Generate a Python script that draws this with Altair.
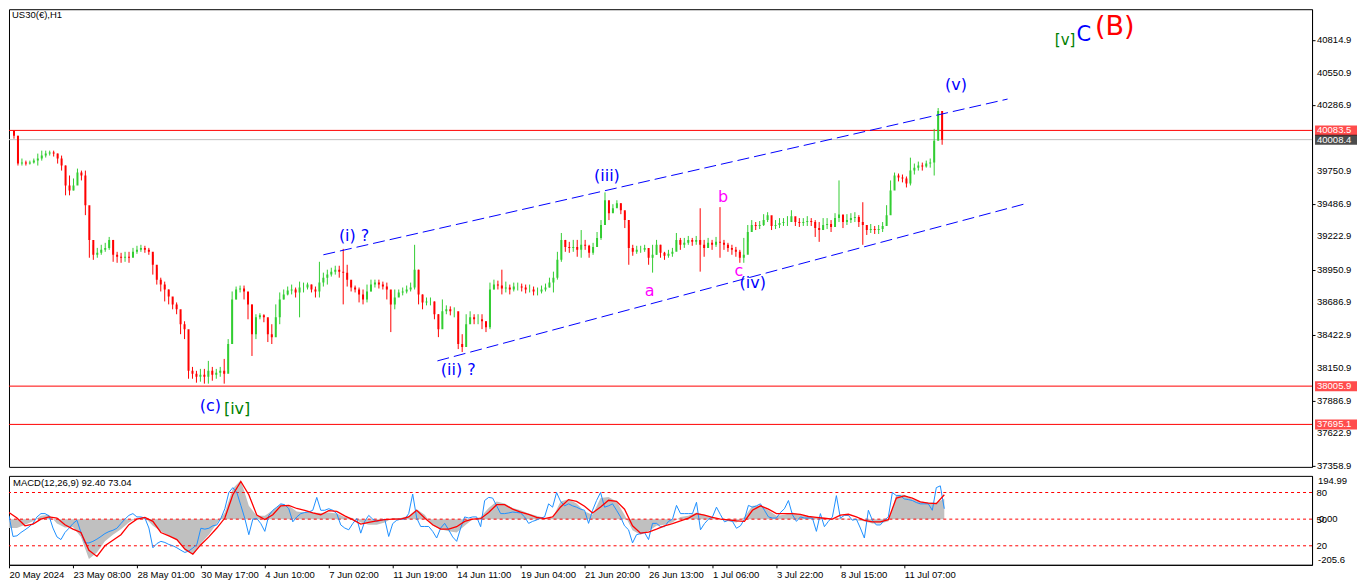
import altair as alt
import pandas as pd

# ---------------- data ----------------
first_open = 40080
close = [
40040, 39814, 39822, 39814, 39822, 39838, 39855, 39879, 39895, 39903,
39895, 39855, 39798, 39636, 39596, 39636, 39741, 39717, 39476, 39194,
39073, 39089, 39113, 39129, 39194, 39073, 39057, 39049, 39057, 39049,
39097, 39113, 39129, 39113, 39097, 38992, 38871, 38831, 38791, 38734,
38670, 38630, 38509, 38469, 38130, 38106, 38082, 38098, 38082, 38130,
38098, 38114, 38130, 38106, 38348, 38710, 38791, 38799, 38775, 38670,
38428, 38565, 38581, 38565, 38428, 38404, 38565, 38710, 38751, 38783,
38791, 38767, 38807, 38807, 38831, 38791, 38775, 38847, 38887, 38912,
38936, 38952, 38936, 38928, 38871, 38807, 38791, 38751, 38710, 38775,
38831, 38847, 38831, 38815, 38791, 38670, 38726, 38767, 38775, 38791,
38807, 38952, 38751, 38686, 38694, 38694, 38590, 38469, 38614, 38630,
38614, 38614, 38348, 38324, 38509, 38565, 38549, 38549, 38533, 38485,
38791, 38831, 38823, 38799, 38807, 38791, 38815, 38815, 38807, 38791,
38791, 38775, 38775, 38791, 38807, 38847, 38887, 39032, 39194, 39137,
39129, 39137, 39113, 39154, 39146, 39089, 39137, 39210, 39315, 39516,
39411, 39451, 39492, 39435, 39355, 39129, 39097, 39113, 39113, 39129,
39049, 39073, 39154, 39089, 39065, 39081, 39097, 39194, 39154, 39170,
39194, 39178, 39194, 39154, 39129, 39170, 39154, 39178, 39170, 39154,
39129, 39113, 39097, 39049, 39073, 39258, 39315, 39307, 39315, 39355,
39395, 39307, 39315, 39331, 39339, 39339, 39387, 39339, 39331, 39339,
39347, 39339, 39290, 39274, 39315, 39323, 39299, 39371, 39400, 39339,
39355, 39371, 39379, 39339, 39315, 39274, 39282, 39274, 39282, 39307,
39395, 39596, 39717, 39701, 39693, 39653, 39757, 39781, 39798, 39790,
39814, 39822, 39999, 40241, 40008]

high = [
40080, 40040, 39855, 39838, 39838, 39855, 39895, 39919, 39919, 39919,
39919, 39895, 39879, 39798, 39717, 39693, 39773, 39757, 39757, 39395,
39154, 39129, 39154, 39170, 39218, 39194, 39097, 39089, 39097, 39097,
39129, 39146, 39154, 39146, 39129, 39073, 38968, 38887, 38855, 38791,
38726, 38686, 38590, 38533, 38428, 38162, 38130, 38146, 38146, 38211,
38162, 38146, 38162, 38227, 38388, 38775, 38815, 38823, 38823, 38726,
38670, 38590, 38598, 38590, 38549, 38509, 38670, 38767, 38791, 38815,
38831, 38807, 38855, 38847, 38847, 38831, 38815, 39016, 38928, 38952,
38968, 38984, 38984, 39121, 38992, 38855, 38823, 38807, 38791, 38831,
38871, 38871, 38871, 38855, 38847, 38751, 38791, 38791, 38807, 38823,
38847, 39154, 38952, 38751, 38726, 38726, 38694, 38590, 38710, 38662,
38654, 38646, 38549, 38428, 38590, 38614, 38590, 38590, 38590, 38533,
38847, 38871, 38863, 38952, 38855, 38831, 38847, 38847, 38839, 38831,
38831, 38815, 38807, 38823, 38839, 38887, 38936, 39097, 39250, 39194,
39178, 39194, 39194, 39274, 39194, 39154, 39170, 39258, 39355, 39580,
39476, 39484, 39516, 39492, 39419, 39315, 39154, 39146, 39146, 39154,
39097, 39154, 39194, 39154, 39097, 39113, 39129, 39250, 39210, 39210,
39226, 39210, 39226, 39451, 39194, 39210, 39194, 39218, 39460, 39194,
39170, 39154, 39137, 39113, 39210, 39315, 39355, 39339, 39347, 39403,
39419, 39355, 39355, 39371, 39371, 39387, 39435, 39379, 39371, 39371,
39387, 39371, 39355, 39339, 39371, 39371, 39355, 39411, 39677, 39395,
39403, 39411, 39419, 39395, 39500, 39315, 39323, 39307, 39315, 39339,
39476, 39677, 39741, 39733, 39725, 39709, 39862, 39814, 39830, 39822,
39838, 39855, 40096, 40265, 40225]

low = [
40016, 39798, 39798, 39798, 39806, 39814, 39798, 39838, 39863, 39879,
39871, 39814, 39757, 39556, 39556, 39596, 39693, 39677, 39395, 39049,
39032, 39049, 39073, 39097, 39113, 39016, 39008, 39008, 39016, 39008,
39065, 39081, 39097, 39089, 39073, 38912, 38831, 38775, 38694, 38670,
38630, 38590, 38428, 38388, 38066, 38066, 38034, 38042, 38026, 38026,
38050, 38066, 38082, 38026, 38146, 38348, 38710, 38767, 38710, 38549,
38251, 38388, 38549, 38525, 38364, 38348, 38469, 38509, 38710, 38743,
38751, 38726, 38565, 38767, 38791, 38767, 38726, 38726, 38815, 38831,
38896, 38912, 38887, 38670, 38815, 38775, 38767, 38686, 38670, 38686,
38775, 38807, 38799, 38791, 38710, 38445, 38630, 38734, 38743, 38759,
38775, 38791, 38670, 38630, 38662, 38662, 38549, 38404, 38509, 38590,
38581, 38565, 38307, 38283, 38388, 38525, 38509, 38509, 38469, 38445,
38469, 38791, 38791, 38751, 38767, 38751, 38775, 38783, 38775, 38759,
38767, 38743, 38743, 38759, 38775, 38807, 38767, 38871, 39016, 39097,
39089, 39097, 39057, 39049, 39113, 39049, 39073, 39154, 39194, 39435,
39355, 39419, 39460, 39403, 39290, 38992, 39065, 39081, 39089, 39097,
38992, 38928, 39073, 39049, 39032, 39049, 39057, 39113, 39113, 39129,
39154, 39146, 39154, 38936, 39057, 39129, 39113, 39137, 39049, 39113,
39097, 39073, 39057, 39008, 39008, 39178, 39274, 39274, 39282, 39307,
39339, 39274, 39282, 39290, 39307, 39307, 39339, 39307, 39299, 39307,
39307, 39307, 39218, 39178, 39274, 39282, 39258, 39315, 39339, 39290,
39315, 39331, 39339, 39299, 39154, 39234, 39250, 39242, 39242, 39258,
39315, 39476, 39677, 39669, 39661, 39620, 39636, 39725, 39757, 39757,
39781, 39781, 39717, 40080, 39967]

# MACD panel (grey histogram and red signal every 2 bars, blue line every bar)
macd_grey = [
-40, -40, -25, -10, 15, 20, -20, -38, -35, -80,
-180, -150, -100, -70, -45, -15, 5, 8, -30, -55,
-75, -95, -140, -160, -110, -70, -20, 30, 138, 175,
60, 15, 15, 40, 68, 60, 35, 30, 30, 28,
30, 25, 10, 5, -15, -25, -25, -15, 5, 5,
15, 45, 20, -30, -45, -55, -60, -30, 0, 10,
50, 80, 70, 50, 40, 25, 15, 5, 5, 80,
90, 70, 35, 20, 95, 100, 80, 20, -50, -70,
-55, -30, -25, -15, 10, 15, 30, 20, 5, 0,
-10, -15, 10, 60, 60, 40, 15, 20, 30, 20,
10, 5, 5, 0, 5, 0, -5, -10, -20, -20,
-10, 110, 110, 90, 80, 75, 75, 92]

macd_signal = [
30, 5, -30, -22, 0, 10, 5, -25, -45, -60,
-140, -168, -120, -95, -70, -25, 0, 8, -10, -60,
-75, -92, -135, -158, -115, -80, -40, 5, 110, 170,
110, 18, -2, 20, 60, 62, 48, 40, 28, 20,
38, 35, 15, -2, -22, -15, -8, -2, 0, 0,
10, 40, 5, -25, -45, -45, -34, -10, 0, 2,
30, 65, 65, 45, 32, 22, 8, 2, 10, 55,
88, 80, 58, 28, 55, 85, 80, 45, -30, -63,
-58, -45, -30, -20, -8, 5, 25, 18, 8, 0,
-3, -8, -10, 40, 60, 45, 25, 25, 25, 22,
12, 8, 4, 0, 18, 22, 10, -5, -12, -12,
-2, 95, 105, 95, 78, 72, 70, 110]

macd_blue = [
15, -78, -75, -60, -48, -35, -19, 10, 25, 25,
15, -40, -80, -92, -60, -41, -20, -5, -60, -107,
-107, -100, -90, -78, -65, -56, -50, -41, -20, 0,
17, 25, 10, 10, 5, -40, -129, -110, -100, -105,
-114, -120, -129, -140, -150, -143, -130, -114, -41, -45,
-41, -30, -26, 3, 47, 120, 142, 120, 62, 3,
-70, 0, 3, -20, -55, 17, 40, 54, 69, 65,
47, -12, 10, 25, 30, 32, 40, 98, 40, 40,
47, 40, 25, -26, -40, -48, -20, 3, -63, -10,
17, 0, -10, -5, 0, -78, -20, -5, 0, 0,
25, 113, 5, -33, -33, -33, -55, -85, -40, -19,
-48, -80, -100, -40, 10, 5, 10, 10, -34, 84,
98, 95, 60, 25, 25, 28, 32, 30, 28, 10,
-19, -10, -4, 5, 10, 69, 54, 120, 80, 60,
69, 60, 54, 45, 40, -19, 40, 84, 120, 54,
60, 69, 40, 10, -30, -48, -107, -70, -65, -60,
-92, -19, -19, -34, -34, -10, 0, 62, 25, 25,
25, 25, 76, -48, -20, 0, 10, 54, 20, -12,
-5, -10, -41, -30, 0, 62, 54, 60, 69, 40,
10, 5, 5, 30, 47, 84, 20, -10, 10, 5,
5, 5, -55, 25, -34, -10, 10, 106, 5, 17,
17, -5, 0, -40, -85, 40, -5, -26, -26, -5,
10, 120, 106, 106, 91, 88, 84, 75, 69, 69,
69, 40, 142, 150, 47]

x_labels = ["20 May 2024", "23 May 08:00", "28 May 01:00", "30 May 17:00",
            "4 Jun 10:00", "7 Jun 02:00", "11 Jun 19:00", "14 Jun 11:00",
            "19 Jun 04:00", "21 Jun 20:00", "26 Jun 13:00", "1 Jul 06:00",
            "3 Jul 22:00", "8 Jul 15:00", "11 Jul 07:00"]
bars_per_label = 16

price_ticks = [40814.9, 40550.9, 40286.9, 39750.9, 39486.9, 39222.9, 38950.9,
               38686.9, 38422.9, 38150.9, 37886.9, 37622.9, 37358.9]

level_prices = [40083.5, 40008.4, 38005.9, 37695.1]
level_colors = ["#ff0000", "#c0c0c0", "#ff0000", "#ff0000"]
tag_bg = ["#ff0000", "#000000", "#ff0000", "#ff0000"]

chan_id = ["up", "up", "low", "low"]
chan_k = [78, 250.5, 106.75, 255.5]
chan_p = [39073, 40338, 38211, 39492]

ann_text = ["(i) ?", "(ii) ?", "(iii)", "(iv)", "(v)", "a", "b", "c",
            "(c)", "[iv]", "[v]", "C", "(B)"]
ann_k = [85.75, 112, 149.5, 186.25, 237.5, 160.25, 178.75, 182.75,
         49.5, 56.25, 265, 269.75, 277.5]
ann_p = [39226, 38138, 39709, 38847, 40450, 38775, 39540, 38944,
         37848, 37824, 40821, 40861, 40926]
ann_color = ["#0000ff"] * 5 + ["#ff00ff"] * 3 + ["#0000ff", "#008000", "#008000", "#0000ff", "#ff0000"]
ann_size = [16, 16, 16, 16, 16, 16, 16, 16, 16, 16, 15, 21, 27]

macd_levels = [120, 0, -120]
symbol_title = "US30(€),H1"
macd_title = "MACD(12,26,9) 92.40 73.04"

# ---------------- layout ----------------
W = 1304
H_MAIN = 458
H_MACD = 89
FONT = "Liberation Sans"

n = len(close)
bars = pd.DataFrame({"k": list(range(n)), "close": close, "high": high, "low": low})
bars["open"] = [first_open] + close[:-1]
bars["dir"] = ["up" if c >= o else "down" for c, o in zip(bars["close"], bars["open"])]

xscale = alt.Scale(domain=[0, 326], nice=False, zero=False)
yscale = alt.Scale(domain=[37350, 41068], nice=False, zero=False)
cscale = alt.Scale(domain=["up", "down"], range=["#32cd32", "#ff0000"])

levels = pd.DataFrame({"p": level_prices, "c": level_colors, "bg": tag_bg,
                       "lab": [f"{v:.1f}" for v in level_prices]})
ticks_df = pd.DataFrame({"p": price_ticks, "lab": [f"{v:.1f}" for v in price_ticks]})

# axis draws domain line and tick marks; labels drawn as text so none get dropped
yaxis = alt.Axis(orient="right", values=price_ticks, tickSize=3, labels=False,
                 title=None, grid=False)

level_rules = alt.Chart(levels).mark_rule(strokeWidth=1).encode(
    y=alt.Y("p:Q", scale=yscale, axis=yaxis),
    color=alt.Color("c:N", scale=None),
)
tick_labels = alt.Chart(ticks_df).mark_text(font=FONT, fontSize=9.5, align="left",
                                            baseline="middle", color="black").encode(
    x=alt.value(W + 5), y=alt.Y("p:Q", scale=yscale), text="lab:N")

wicks = alt.Chart(bars).mark_rule(strokeWidth=1, clip=True).encode(
    x=alt.X("k:Q", scale=xscale, axis=None),
    y=alt.Y("low:Q", scale=yscale),
    y2="high:Q",
    color=alt.Color("dir:N", scale=cscale, legend=None),
)
bodies = alt.Chart(bars).mark_bar(size=2, clip=True).encode(
    x=alt.X("k:Q", scale=xscale, axis=None),
    y=alt.Y("open:Q", scale=yscale),
    y2="close:Q",
    color=alt.Color("dir:N", scale=cscale, legend=None),
)

chan = pd.DataFrame({"id": chan_id, "k": chan_k, "p": chan_p})
channels = alt.Chart(chan).mark_line(color="#0000ff", strokeWidth=1,
                                     strokeDash=[12, 5], clip=True).encode(
    x=alt.X("k:Q", scale=xscale), y=alt.Y("p:Q", scale=yscale), detail="id:N")

ann = pd.DataFrame({"t": ann_text, "k": ann_k, "p": ann_p, "c": ann_color, "s": ann_size})
annotations = alt.Chart(ann).mark_text(font="DejaVu Sans", align="center",
                                       baseline="middle").encode(
    x=alt.X("k:Q", scale=xscale), y=alt.Y("p:Q", scale=yscale),
    text="t:N", color=alt.Color("c:N", scale=None), size=alt.Size("s:Q", scale=None))

title_txt = alt.Chart(pd.DataFrame({"t": [symbol_title]})).mark_text(
    font=FONT, fontSize=9.5, align="left", baseline="middle", color="black").encode(
    text="t:N", x=alt.value(3), y=alt.value(6))

tag_rect = alt.Chart(levels).mark_tick(orient="horizontal", size=42, thickness=10).encode(
    x=alt.value(W + 24), y=alt.Y("p:Q", scale=yscale),
    color=alt.Color("bg:N", scale=None))
tag_text = alt.Chart(levels).mark_text(font=FONT, fontSize=9.5, align="left",
                                       baseline="middle", color="white").encode(
    x=alt.value(W + 5), y=alt.Y("p:Q", scale=yscale), text="lab:N")

main = alt.layer(level_rules, wicks, bodies, channels, annotations, title_txt,
                 tick_labels, tag_rect, tag_text).properties(width=W, height=H_MAIN)

# ---------------- MACD ----------------
mscale = alt.Scale(domain=[-205.6, 194.99], nice=False, zero=False)
label_expr = "[" + ",".join(f"'{s}'" for s in x_labels) + f"][round(datum.value/{bars_per_label})]"
xaxis = alt.Axis(values=[i * bars_per_label for i in range(len(x_labels))],
                 labelExpr=label_expr, labelAlign="left", labelPadding=2,
                 tickSize=3, title=None, grid=False, labelFlush=False,
                 labelOverlap=False)

mdf = pd.DataFrame({"k": list(range(0, 2 * len(macd_grey), 2)),
                    "grey": macd_grey, "sig": macd_signal})
bdf = pd.DataFrame({"k": list(range(len(macd_blue))), "v": macd_blue})
lvl = pd.DataFrame({"v": macd_levels})

maxis = alt.Axis(orient="right", values=macd_levels, tickSize=0, labelPadding=4,
                 title=None, grid=False, labelOverlap=False,
                 labelExpr="datum.value > 60 ? '80' : (datum.value < -60 ? '20' : '50')")

grey_area = alt.Chart(mdf).mark_area(color="#c0c0c0", clip=True).encode(
    x=alt.X("k:Q", scale=xscale, axis=xaxis),
    y=alt.Y("grey:Q", scale=mscale, axis=maxis),
    y2=alt.datum(0))
lvl_rules = alt.Chart(lvl).mark_rule(color="#ff0000", strokeDash=[3, 3], strokeWidth=1).encode(
    y=alt.Y("v:Q", scale=mscale))
blue_line = alt.Chart(bdf).mark_line(color="#1e90ff", strokeWidth=1, clip=True).encode(
    x=alt.X("k:Q", scale=xscale), y=alt.Y("v:Q", scale=mscale))
red_line = alt.Chart(mdf).mark_line(color="#ff0000", strokeWidth=1.3, clip=True).encode(
    x=alt.X("k:Q", scale=xscale), y=alt.Y("sig:Q", scale=mscale))
macd_txt = alt.Chart(pd.DataFrame({"t": [macd_title]})).mark_text(
    font=FONT, fontSize=9.5, align="left", baseline="middle", color="black").encode(
    text="t:N", x=alt.value(4), y=alt.value(7))
extra = pd.DataFrame({"t": ["194.99", "-205.6", "0.00"], "v": [194.99, -205.6, 0]})
top_lab = alt.Chart(extra.iloc[[0]]).mark_text(font=FONT, fontSize=9.5, align="left",
                                              baseline="top", color="black").encode(
    x=alt.value(W + 6), y=alt.Y("v:Q", scale=mscale), text="t:N")
bot_lab = alt.Chart(extra.iloc[[1]]).mark_text(font=FONT, fontSize=9.5, align="left",
                                              baseline="bottom", color="black").encode(
    x=alt.value(W + 6), y=alt.Y("v:Q", scale=mscale), text="t:N")
zero_lab = alt.Chart(extra.iloc[[2]]).mark_text(font=FONT, fontSize=9.5, align="left",
                                               baseline="middle", color="black").encode(
    x=alt.value(W + 7), y=alt.Y("v:Q", scale=mscale), text="t:N")

macd = alt.layer(grey_area, lvl_rules, blue_line, red_line, macd_txt,
                 top_lab, bot_lab, zero_lab).properties(width=W, height=H_MACD)

chart = alt.vconcat(main, macd, spacing=4).configure(
    padding={"left": 0, "top": 0, "right": 0, "bottom": 0},
    background="white",
).configure_view(stroke="black", strokeWidth=1).configure_axis(
    labelFont=FONT, labelFontSize=9.5, labelColor="black",
    domainColor="black", tickColor="black", domainWidth=1)

chart.save("out.html", embed_options={"renderer": "svg", "actions": False})
